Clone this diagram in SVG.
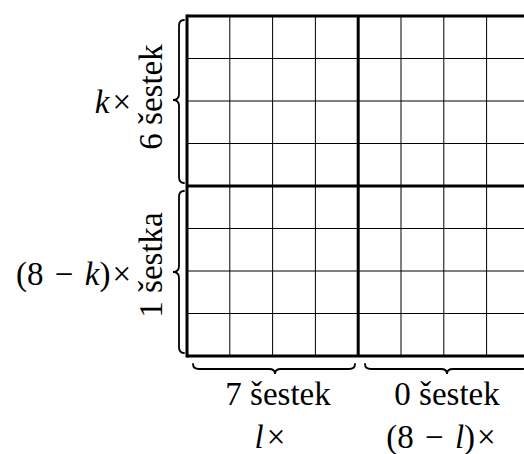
<svg xmlns="http://www.w3.org/2000/svg" width="524" height="454" viewBox="0 0 524 454">
<style>
.thin{stroke:#000;stroke-width:1;fill:none}
.thick{stroke:#000;stroke-width:3;fill:none}
.brace{stroke:#000;stroke-width:1.8;fill:none;stroke-linecap:round}
text{font-family:'Liberation Serif','Times New Roman',serif;font-size:33px;fill:#000}
.i{font-style:italic}
</style>
<rect width="524" height="454" fill="#fff"/>
<g id="grid">
<g class="thin">
<line x1="229.8" y1="16" x2="229.8" y2="356"/>
<line x1="272.6" y1="16" x2="272.6" y2="356"/>
<line x1="315.4" y1="16" x2="315.4" y2="356"/>
<line x1="401" y1="16" x2="401" y2="356"/>
<line x1="443.8" y1="16" x2="443.8" y2="356"/>
<line x1="486.6" y1="16" x2="486.6" y2="356"/>
<line x1="187" y1="58.5" x2="530" y2="58.5"/>
<line x1="187" y1="101" x2="530" y2="101"/>
<line x1="187" y1="143.5" x2="530" y2="143.5"/>
<line x1="187" y1="228.5" x2="530" y2="228.5"/>
<line x1="187" y1="271" x2="530" y2="271"/>
<line x1="187" y1="313.5" x2="530" y2="313.5"/>
</g>
<g class="thick">
<line x1="187" y1="14.5" x2="187" y2="357.5"/>
<line x1="358.2" y1="16" x2="358.2" y2="356"/>
<line x1="187" y1="16" x2="530" y2="16"/>
<line x1="187" y1="186" x2="530" y2="186"/>
<line x1="187" y1="356" x2="530" y2="356"/>
</g>
</g>
<g id="connectors">
<path class="brace" d="M184,20 Q179,20 179,26 L179,94 Q179,100 173,100 Q179,100 179,106 L179,177 Q179,183 184,183"/>
<path class="brace" d="M184,191 Q179,191 179,197 L179,266 Q179,272 173,272 Q179,272 179,278 L179,347 Q179,353 184,353"/>
<path class="brace" d="M193,364 Q193,369 199,369 L269,369 Q275,369 275,374 Q275,369 281,369 L349,369 Q355,369 355,364"/>
<path class="brace" d="M365,364 Q365,369 371,369 L441,369 Q447,369 447,374 Q447,369 453,369 L523,369 Q529,369 529,364"/>
</g>
<g id="label-left-top">
<text transform="translate(162,97) rotate(-90)" text-anchor="middle">6 šestek</text>
<text x="131" y="113" text-anchor="end"><tspan class="i">k</tspan><tspan dx="3">×</tspan></text>
</g>
<g id="label-left-bottom">
<text transform="translate(162,265) rotate(-90)" text-anchor="middle">1 šestka</text>
<text x="131" y="285" text-anchor="end">(8 <tspan dx="3">−</tspan> <tspan class="i" dx="3">k</tspan>)<tspan dx="2">×</tspan></text>
</g>
<g id="label-bottom-left">
<text x="278" y="405" text-anchor="middle">7 šestek</text>
<text x="270" y="448" text-anchor="middle"><tspan class="i">l</tspan><tspan dx="3">×</tspan></text>
</g>
<g id="label-bottom-right">
<text x="447" y="405" text-anchor="middle">0 šestek</text>
<text x="441" y="448" text-anchor="middle">(8 <tspan dx="3">−</tspan> <tspan class="i" dx="3">l</tspan>)<tspan dx="2">×</tspan></text>
</g>
</svg>
